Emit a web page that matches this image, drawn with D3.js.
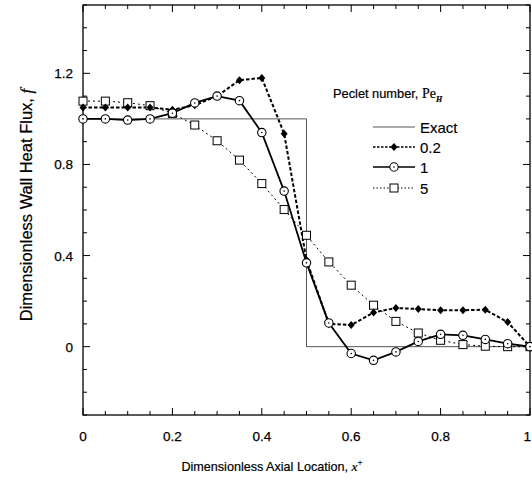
<!DOCTYPE html>
<html><head><meta charset="utf-8">
<script src="https://cdn.jsdelivr.net/npm/d3@7"></script>
<style>body{margin:0;background:#fff}svg{display:block}</style>
</head><body>
<svg id="c" width="532" height="484"></svg>
<script>
const xs = [0,0.05,0.1,0.15,0.2,0.25,0.3,0.35,0.4,0.45,0.5,0.55,0.6,0.65,0.7,0.75,0.8,0.85,0.9,0.95,1.0];
const exactX = [0,0.5,0.5,1];
const exactY = [1,1,0,0];
const pe02 = [1.05,1.05,1.05,1.05,1.04,1.06,1.10,1.17,1.18,0.935,0.38,0.10,0.095,0.15,0.17,0.165,0.16,0.16,0.162,0.108,0.0];
const pe1  = [1.0,1.0,0.995,1.0,1.025,1.07,1.10,1.08,0.94,0.683,0.368,0.104,-0.03,-0.06,-0.023,0.023,0.054,0.05,0.032,0.013,0.0];
const pe5  = [1.078,1.078,1.071,1.058,1.024,0.973,0.904,0.819,0.716,0.602,0.489,0.372,0.27,0.182,0.111,0.06,0.028,0.009,0.002,0.0,0.0];
const xTicks = [0,0.2,0.4,0.6,0.8,1];
const xTickLabels = ["0","0.2","0.4","0.6","0.8","1"];
const yTicks = [0,0.4,0.8,1.2];
const yTickLabels = ["0","0.4","0.8","1.2"];
const legendLabels = ["Exact","0.2","1","5"];

const svg = d3.select("#c");
const L=83, R=530, T=5, B=415;
const x = d3.scaleLinear().domain([0,1]).range([L,R]);
const y = d3.scaleLinear().domain([-0.3,1.5]).range([B,T]);
const font = "Liberation Sans, Arial, sans-serif";
const serif = "Liberation Serif, Times New Roman, serif";

// frame
svg.append("rect").attr("x",L).attr("y",T).attr("width",R-L).attr("height",B-T)
  .attr("fill","none").attr("stroke","#000").attr("stroke-width",1.3);

// ticks
const minorX = d3.range(0,1.0001,0.05);
const minorY = d3.range(-0.3,1.5001,0.1);
const isMajX = v => Math.abs(v*5-Math.round(v*5))<1e-6;
const isMajY = v => Math.abs(v*2.5-Math.round(v*2.5))<1e-6;
const tg = svg.append("g").attr("stroke","#000").attr("stroke-width",1);
minorX.forEach(v=>{
  const len = isMajX(v)?7:4;
  tg.append("line").attr("x1",x(v)).attr("x2",x(v)).attr("y1",B).attr("y2",B-len);
  tg.append("line").attr("x1",x(v)).attr("x2",x(v)).attr("y1",T).attr("y2",T+len);
});
minorY.forEach(v=>{
  const len = isMajY(v)?7:4;
  tg.append("line").attr("x1",L).attr("x2",L+len).attr("y1",y(v)).attr("y2",y(v));
  tg.append("line").attr("x1",R).attr("x2",R-len).attr("y1",y(v)).attr("y2",y(v));
});

// tick labels
xTicks.forEach((v,i)=>{
  const last = i===xTicks.length-1;
  svg.append("text").attr("x",last?531:x(v)).attr("y",441).attr("text-anchor",last?"end":"middle")
    .attr("font-family",font).attr("font-size",13.5).attr("stroke","#000").attr("stroke-width",0.25).text(xTickLabels[i]);
});
yTicks.forEach((v,i)=>{
  svg.append("text").attr("x",73).attr("y",y(v)+5).attr("text-anchor","end")
    .attr("font-family",font).attr("font-size",13.5).attr("stroke","#000").attr("stroke-width",0.25).text(yTickLabels[i]);
});

// axis titles
const xt = svg.append("text").attr("x",272).attr("y",471).attr("text-anchor","middle")
  .attr("font-family",font).attr("font-size",12.6).attr("stroke","#000").attr("stroke-width",0.2);
xt.append("tspan").text("Dimensionless Axial Location,  ");
xt.append("tspan").attr("font-family",serif).attr("font-style","italic").attr("font-size",13.5).text("x");
xt.append("tspan").attr("font-family",serif).attr("font-size",9).attr("dy",-6).text("+");

const yt = svg.append("text").attr("transform","translate(32,205) rotate(-90)").attr("text-anchor","middle")
  .attr("font-family",font).attr("font-size",16.5).attr("stroke","#000").attr("stroke-width",0.2);
yt.append("tspan").text("Dimensionless Wall Heat Flux,  ");
yt.append("tspan").attr("font-family",serif).attr("font-style","italic").attr("font-size",17).text("f");

// lines
const line = d3.line().x(d=>x(d[0])).y(d=>y(d[1]));
const plot = svg.append("g");
plot.append("path").datum(exactX.map((v,i)=>[v,exactY[i]])).attr("d",line)
  .attr("fill","none").attr("stroke","#555").attr("stroke-width",1);
const s02 = xs.map((v,i)=>[v,pe02[i]]);
const s1 = xs.map((v,i)=>[v,pe1[i]]);
const s5 = xs.map((v,i)=>[v,pe5[i]]);
plot.append("path").datum(s5).attr("d",line).attr("fill","none").attr("stroke","#000")
  .attr("stroke-width",1).attr("stroke-dasharray","2,3");
plot.append("path").datum(s02).attr("d",line).attr("fill","none").attr("stroke","#000")
  .attr("stroke-width",2).attr("stroke-dasharray","3.5,2");
plot.append("path").datum(s1).attr("d",line).attr("fill","none").attr("stroke","#000")
  .attr("stroke-width",1.8);

function square(g,cx,cy){ g.append("rect").attr("x",cx-4).attr("y",cy-4).attr("width",8).attr("height",8)
  .attr("fill","#fff").attr("stroke","#000").attr("stroke-width",1); }
function diamond(g,cx,cy){ g.append("path").attr("d",`M${cx},${cy-4}L${cx+3.5},${cy}L${cx},${cy+4}L${cx-3.5},${cy}Z`)
  .attr("fill","#000"); }
function circle(g,cx,cy){ g.append("circle").attr("cx",cx).attr("cy",cy).attr("r",4.2)
  .attr("fill","#fff").attr("stroke","#000").attr("stroke-width",1.1);
  g.append("circle").attr("cx",cx).attr("cy",cy).attr("r",0.8).attr("fill","#000"); }

s5.forEach(d=>square(plot,x(d[0]),y(d[1])));
s02.forEach(d=>diamond(plot,x(d[0]),y(d[1])));
s1.forEach(d=>circle(plot,x(d[0]),y(d[1])));

// legend
const lg = svg.append("g");
const lt = lg.append("text").attr("x",333).attr("y",98).attr("font-family",font).attr("font-size",12.8)
  .attr("stroke","#000").attr("stroke-width",0.2);
lt.append("tspan").text("Peclet number,  ");
lt.append("tspan").attr("font-family",serif).attr("font-size",14).text("Pe");
lt.append("tspan").attr("font-family",serif).attr("font-style","italic").attr("font-weight","bold").attr("font-size",8).attr("dy",4).text("H");
const rows = [127,147,167,188];
const lx1=373, lx2=415, lm=394;
lg.append("line").attr("x1",lx1).attr("x2",lx2).attr("y1",rows[0]).attr("y2",rows[0]).attr("stroke","#555").attr("stroke-width",1);
lg.append("line").attr("x1",lx1).attr("x2",lx2).attr("y1",rows[1]).attr("y2",rows[1]).attr("stroke","#000").attr("stroke-width",1.5).attr("stroke-dasharray","2.5,1.5");
diamond(lg,lm,rows[1]);
lg.append("line").attr("x1",lx1).attr("x2",lx2).attr("y1",rows[2]).attr("y2",rows[2]).attr("stroke","#000").attr("stroke-width",1.5);
circle(lg,lm,rows[2]);
lg.append("line").attr("x1",lx1).attr("x2",lx2).attr("y1",rows[3]).attr("y2",rows[3]).attr("stroke","#000").attr("stroke-width",1).attr("stroke-dasharray","1.5,2");
square(lg,lm,rows[3]);
legendLabels.forEach((t,i)=>{
  lg.append("text").attr("x",420).attr("y",rows[i]+5.5).attr("font-family",font).attr("font-size",15)
    .attr("stroke","#000").attr("stroke-width",0.15).text(t);
});
</script>
</body></html>
